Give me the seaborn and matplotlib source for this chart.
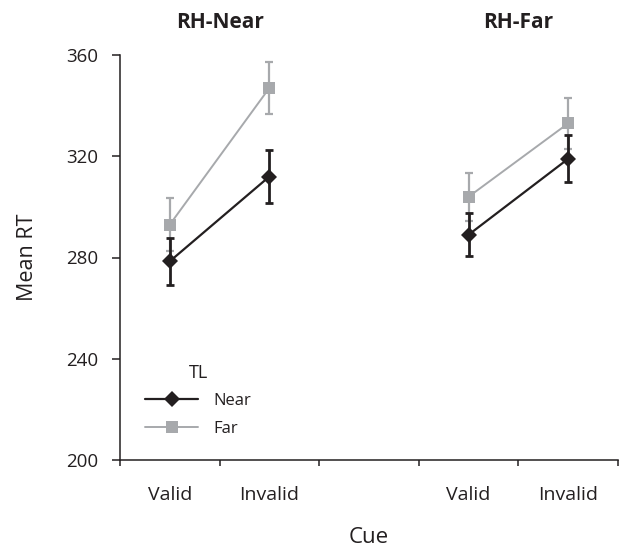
import matplotlib
matplotlib.use("Agg")
import matplotlib.pyplot as plt
import seaborn as sns
import pandas as pd
from matplotlib.lines import Line2D

# ---- data ----
panels = ["RH-Near", "RH-Far"]
cues = ["Valid", "Invalid"]
tl_levels = ["Near", "Far"]
near_rt = [278.5, 312.0, 289.0, 319.0]     # RH-Near Valid, Invalid, RH-Far Valid, Invalid
near_err = [9.2, 10.5, 8.6, 9.2]
far_rt = [293.0, 347.0, 304.0, 333.0]
far_err = [10.4, 10.3, 9.4, 10.0]
yticks = [200, 240, 280, 320, 360]

sns.set_theme(style="white")
plt.rcParams["font.family"] = ["Open Sans", "DejaVu Sans"]
plt.rcParams["text.color"] = "#231f20"
plt.rcParams["axes.labelcolor"] = "#231f20"
plt.rcParams["xtick.color"] = "#231f20"
plt.rcParams["ytick.color"] = "#231f20"

rows = []
for p_i, panel in enumerate(panels):
    for c_i, cue in enumerate(cues):
        idx = p_i * 2 + c_i
        slot = p_i * 3 + c_i  # empty slot between panels
        rows.append(dict(panel=panel, cue=cue, TL="Near", rt=near_rt[idx], err=near_err[idx], x=slot))
        rows.append(dict(panel=panel, cue=cue, TL="Far", rt=far_rt[idx], err=far_err[idx], x=slot))
df = pd.DataFrame(rows)

colors = {"Near": "#231f20", "Far": "#a7a9ac"}
markers = {"Near": "D", "Far": "s"}
msize = {"Near": 8.5, "Far": 8}
elw = {"Near": 2.0, "Far": 1.6}
lw = {"Near": 1.6, "Far": 1.4}

fig = plt.figure(figsize=(6.19, 5.48), dpi=100)
ax = fig.add_axes([120 / 619, 88 / 548, 498 / 619, 405 / 548])

for tl in ["Far", "Near"]:
    z = 3 if tl == "Near" else 2
    for panel in panels:
        sub = df[(df.TL == tl) & (df.panel == panel)]
        ax.errorbar(sub.x, sub.rt, yerr=sub.err, fmt="none", ecolor=colors[tl],
                    elinewidth=elw[tl], capsize=3, capthick=elw[tl], zorder=z)
        sns.lineplot(data=sub, x="x", y="rt", ax=ax, color=colors[tl], marker=markers[tl],
                     markersize=msize[tl], markeredgewidth=0, linewidth=lw[tl],
                     zorder=z + 0.5, legend=False)

# axes styling
ax.set_ylim(200, 360)
ax.set_yticks(yticks)
ax.set_xlim(-0.5, 4.48)
ax.set_xticks([-0.5, 0.5, 1.5, 2.5, 3.5, 4.5])
ax.set_xticklabels([])
ax.set_xticks([0, 1, 3, 4], minor=True)
ax.set_xticklabels(["Valid", "Invalid", "Valid", "Invalid"], minor=True)
ax.tick_params(axis="x", which="minor", length=0, pad=19, labelsize=14)
ax.tick_params(axis="x", which="major", length=4.5, width=1.1, direction="out")
ax.tick_params(axis="y", length=6, width=1.1, direction="out", labelsize=13.5, pad=10)
ax.tick_params(bottom=True, left=True, which="major")
for s in ["top", "right"]:
    ax.spines[s].set_visible(False)
for s in ["left", "bottom"]:
    ax.spines[s].set_color("#231f20")
    ax.spines[s].set_linewidth(1.1)

ax.set_xlabel("Cue", fontsize=16, labelpad=16)
ax.set_ylabel("Mean RT", fontsize=15.5, labelpad=20)

# panel titles, centred over each pair of cue slots
for p_i, panel in enumerate(panels):
    ax.text(p_i * 3 + 0.5, 1.081, panel, transform=ax.get_xaxis_transform(),
            ha="center", va="center", fontsize=15, fontweight="bold")

# legend
handles = [Line2D([], [], color=colors[t], marker=markers[t], markersize=msize[t],
                  markeredgewidth=0, linewidth=lw[t]) for t in tl_levels]
leg = ax.legend(handles, tl_levels, title="TL", loc="lower left", bbox_to_anchor=(0.02, 0.02),
                frameon=False, fontsize=12, title_fontsize=13, handlelength=3.2,
                handletextpad=0.9, labelspacing=0.7)

fig.savefig("out.png", dpi=100)
